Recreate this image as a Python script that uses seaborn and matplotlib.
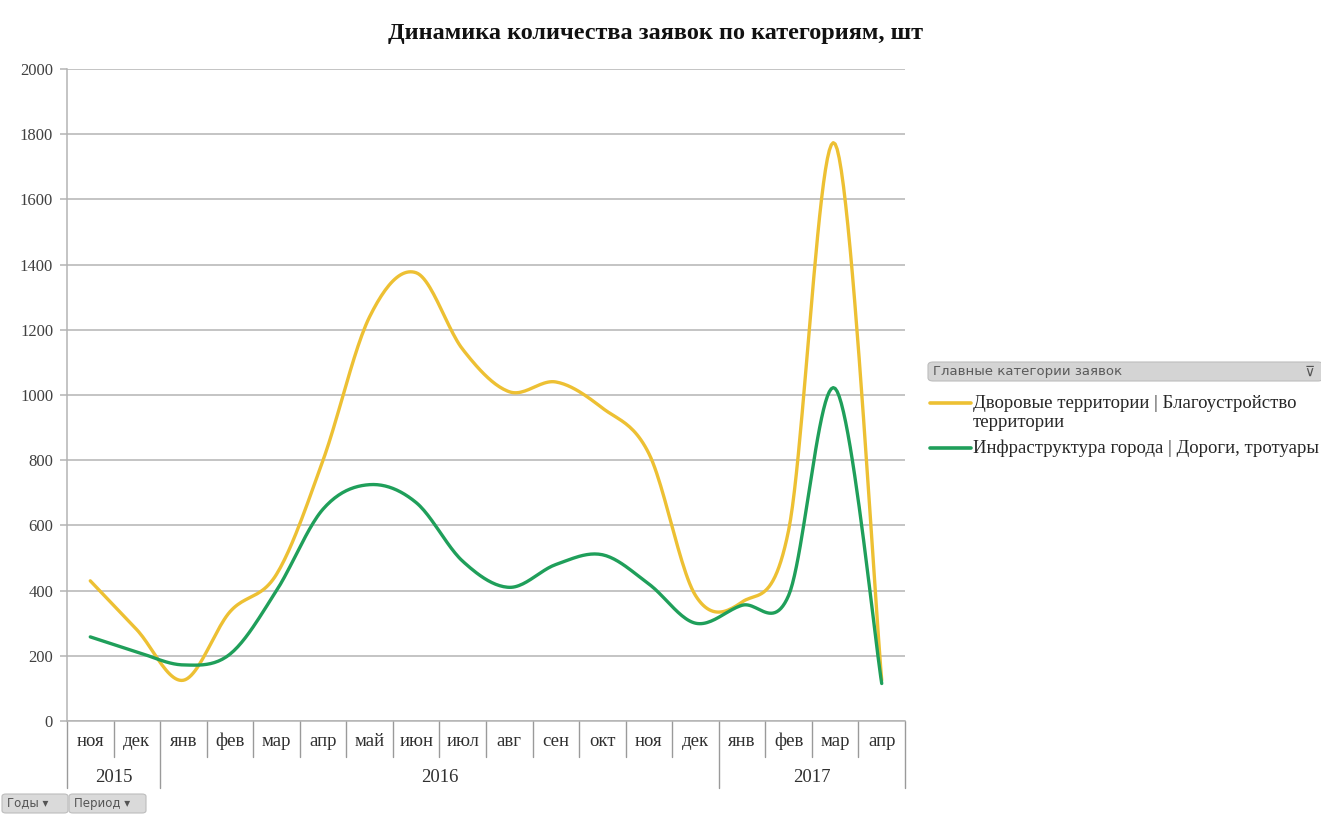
#!/usr/bin/env python3

import numpy as np
import pandas as pd
import seaborn as sns
import matplotlib.pyplot as plt
from matplotlib.lines import Line2D
from matplotlib.patches import FancyBboxPatch

months = ['ноя', 'дек',
          'янв', 'фев', 'мар', 'апр', 'май', 'июн', 'июл', 'авг', 'сен', 'окт', 'ноя', 'дек',
          'янв', 'фев', 'мар', 'апр']
years = ['2015', '2016', '2017']
year_months = [2, 12, 4]

legend_title = 'Главные категории заявок'
yard_label = ['Дворовые территории | Благоустройство', 'территории']
roads_label = 'Инфраструктура города | Дороги, тротуары'
yard = [430, 280, 125, 335, 450, 800, 1240, 1375, 1140, 1010, 1040, 960, 820, 385, 365, 585, 1770, 125]
roads = [258, 212, 172, 205, 400, 650, 725, 670, 490, 410, 480, 510, 420, 300, 355, 385, 1020, 115]

yticks = list(range(0, 2001, 200))

YELLOW = '#EDC033'
GREEN = '#1F9F5A'
SERIF = 'Liberation Serif'
W, H = 1321, 821


def fx(px):
    return px / W


def fy(py):
    return 1 - py / H


def smooth(values, n=24):
    """Excel-style smoothed line: cubic Bezier segments through every point."""
    p = np.column_stack([np.arange(len(values)), values]).astype(float)
    out = []
    for i in range(len(p) - 1):
        p0, p1, p2 = p[max(i - 1, 0)], p[i], p[i + 1]
        p3 = p[min(i + 2, len(p) - 1)]
        c1 = p1 + (p2 - p0) / 6
        c2 = p2 - (p3 - p1) / 6
        t = np.linspace(0, 1, n, endpoint=False)[:, None]
        out.append((1 - t)**3 * p1 + 3 * (1 - t)**2 * t * c1 + 3 * (1 - t) * t**2 * c2 + t**3 * p2)
    out.append(p[-1:])
    return np.vstack(out)


def make_plot():
    sns.set_theme(style='white')
    plt.rcParams['font.family'] = [SERIF, 'DejaVu Serif']

    frames = []
    for name, vals in [('yard', yard), ('roads', roads)]:
        c = smooth(vals)
        frames.append(pd.DataFrame({'x': c[:, 0], 'y': c[:, 1], 'series': name}))
    df = pd.concat(frames, ignore_index=True)

    fig = plt.figure(figsize=(W / 100, H / 100), dpi=100)
    ax = fig.add_axes([fx(67), fy(721), fx(905 - 67), (721 - 69) / H])

    for yv in yticks:
        ax.axhline(yv, color='#B4B4B4', lw=1.1, zorder=0)

    sns.lineplot(data=df, x='x', y='y', hue='series', palette={'yard': YELLOW, 'roads': GREEN},
                 sort=False, estimator=None, legend=False, lw=2.4, ax=ax)

    ax.set_xlim(-0.5, len(months) - 0.5)
    ax.set_ylim(0, 2000)
    ax.set_yticks(yticks)
    ax.set_yticklabels([str(v) for v in yticks], fontsize=12, color='#404040', family=SERIF)
    ax.set_xticks([])
    ax.set_xlabel('')
    ax.set_ylabel('')
    ax.tick_params(axis='y', length=5, color='#B4B4B4', width=1.1, pad=5, left=True)
    for s in ['top', 'right']:
        ax.spines[s].set_visible(False)
    for s in ['left', 'bottom']:
        ax.spines[s].set_color('#B4B4B4')
        ax.spines[s].set_linewidth(1.1)

    # two-level category axis
    trans = ax.get_xaxis_transform()
    h = 721 - 69
    month_y = -(741 - 721) / h
    month_sep = -(757 - 721) / h
    year_y = -(777 - 721) / h
    year_sep = -(788 - 721) / h
    for i, m in enumerate(months):
        ax.text(i, month_y, m, transform=trans, ha='center', va='center', fontsize=13.5, color='#303030')
    boundaries = np.cumsum([0] + year_months)
    for i in range(len(months) + 1):
        depth = year_sep if i in boundaries else month_sep
        ax.plot([i - 0.5, i - 0.5], [0, depth], transform=trans, color='#9A9A9A', lw=1, clip_on=False)
    for yr, a, b in zip(years, boundaries[:-1], boundaries[1:]):
        ax.text((a + b - 1) / 2, year_y, yr, transform=trans, ha='center', va='center',
                fontsize=13.5, color='#303030')

    fig.text(fx(655), fy(34), 'Динамика количества заявок по категориям, шт',
             ha='center', va='center', fontsize=17.5, fontweight='bold', family=SERIF, color='#111111')

    # legend header
    fig.patches.append(FancyBboxPatch((fx(928), fy(381)), 395 / W, 19 / H,
                                      boxstyle='round,pad=0,rounding_size=0.004',
                                      transform=fig.transFigure, fc='#D4D4D4', ec='#BDBDBD', lw=0.8))
    fig.text(fx(933), fy(371.5), legend_title, ha='left', va='center',
             fontsize=9.5, family='DejaVu Sans', color='#5A5A5A')
    fig.text(fx(1310), fy(371.5), '⊽', ha='center', va='center', fontsize=10,
             family='DejaVu Sans', color='#555555')

    # legend entries
    for color, ypx in [(YELLOW, 403), (GREEN, 448)]:
        fig.add_artist(Line2D([fx(930), fx(971)], [fy(ypx), fy(ypx)], color=color, lw=2.6,
                              transform=fig.transFigure))
    fig.text(fx(973), fy(403), yard_label[0], ha='left', va='center', fontsize=13.5, color='#262626')
    fig.text(fx(973), fy(422), yard_label[1], ha='left', va='center', fontsize=13.5, color='#262626')
    fig.text(fx(973), fy(448), roads_label, ha='left', va='center', fontsize=13.5, color='#262626')

    # pivot field buttons
    for x0, w, label in [(2, 66, 'Годы ▾'), (69, 77, 'Период ▾')]:
        fig.patches.append(FancyBboxPatch((fx(x0), fy(813)), w / W, 19 / H,
                                          boxstyle='round,pad=0,rounding_size=0.003',
                                          transform=fig.transFigure, fc='#DADADA', ec='#BDBDBD', lw=0.8))
        fig.text(fx(x0 + 5), fy(803), label, ha='left', va='center', fontsize=8.5,
                 family='DejaVu Sans', color='#555555')

    fig.savefig('out.png', dpi=100)


if __name__ == '__main__':
    make_plot()
